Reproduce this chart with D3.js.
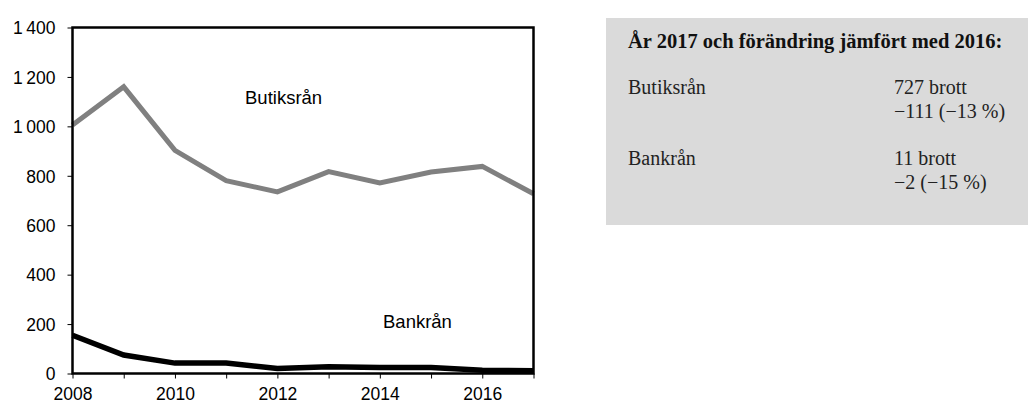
<!DOCTYPE html>
<html><head><meta charset="utf-8">
<script src="https://cdn.jsdelivr.net/npm/d3@7"></script>
<style>body{margin:0;background:#fff}svg{display:block}</style>
</head><body>
<svg id="c" width="1028" height="403"></svg>
<script>
const years = [2008,2009,2010,2011,2012,2013,2014,2015,2016,2017];
const butiksran = [1005,1160,903,780,735,817,771,815,838,727];
const bankran = [155,75,42,42,20,27,24,24,13,11];
const yTicks = [0,200,400,600,800,1000,1200,1400];
const xTicks = [2008,2010,2012,2014,2016];
const boxTitle = "År 2017 och förändring jämfört med 2016:";
const boxRows = [
  {name:"Butiksrån", l1:"727 brott", l2:"\u2212111 (\u221213 %)"},
  {name:"Bankrån", l1:"11 brott", l2:"\u22122 (\u221215 %)"}
];

const svg = d3.select("#c");
const L=72.5, R=533.5, T=27.5, B=373.5;
const x = d3.scaleLinear().domain([2008,2017]).range([L,R]);
const y = d3.scaleLinear().domain([0,1400]).range([B,T]);
const fmt = d => d3.format(",")(d).replace(/,/g,"\u2009");
const sans = "Liberation Sans, Arial, sans-serif";

const ya = svg.append("g").attr("transform",`translate(${L},0)`)
  .call(d3.axisLeft(y).tickValues(yTicks).tickFormat(fmt).tickSize(5).tickPadding(12));
ya.select(".domain").remove();
ya.selectAll("text").attr("font-family",sans).attr("font-size",17.5).attr("fill","#000").attr("dy","0.36em");
ya.selectAll("line").attr("stroke","#000");

const xa = svg.append("g").attr("transform",`translate(0,${B})`)
  .call(d3.axisBottom(x).tickValues(years).tickFormat(d => xTicks.includes(d)? d : "").tickSize(5).tickPadding(9.5));
xa.select(".domain").remove();
xa.selectAll("text").attr("font-family",sans).attr("font-size",17.5).attr("fill","#000");
xa.selectAll("line").attr("stroke","#000");

const line = d3.line().x((d,i)=>x(years[i])).y(d=>y(d));
svg.append("path").datum(butiksran).attr("d",line).attr("fill","none").attr("stroke","#808080").attr("stroke-width",5).attr("stroke-linejoin","miter");
svg.append("path").datum(bankran).attr("d",line).attr("fill","none").attr("stroke","#000").attr("stroke-width",5.5).attr("stroke-linejoin","miter");

// frame
svg.append("rect").attr("x",L).attr("y",T).attr("width",R-L).attr("height",B-T)
  .attr("fill","none").attr("stroke","#000").attr("stroke-width",2.5);

svg.append("text").attr("x",245).attr("y",104).text("Butiksrån")
  .attr("font-family",sans).attr("font-size",18.5);
svg.append("text").attr("x",383).attr("y",328).text("Bankrån")
  .attr("font-family",sans).attr("font-size",18.5);

// info box
svg.append("rect").attr("x",606).attr("y",18).attr("width",422).attr("height",207).attr("fill","#dadada");
const serif = "Liberation Serif, Times New Roman, serif";
svg.append("text").attr("x",628).attr("y",48).text(boxTitle).attr("font-family",serif).attr("font-size",20.5).attr("font-weight","bold").attr("fill","#111");
boxRows.forEach((r,i)=>{
  const by = 94 + i*71;
  svg.append("text").attr("x",628).attr("y",by).text(r.name).attr("font-family",serif).attr("font-size",20).attr("fill","#222");
  svg.append("text").attr("x",894).attr("y",by).text(r.l1).attr("font-family",serif).attr("font-size",20).attr("fill","#222");
  svg.append("text").attr("x",894).attr("y",by+23.5).text(r.l2).attr("font-family",serif).attr("font-size",20).attr("fill","#222");
});
</script>
</body></html>
